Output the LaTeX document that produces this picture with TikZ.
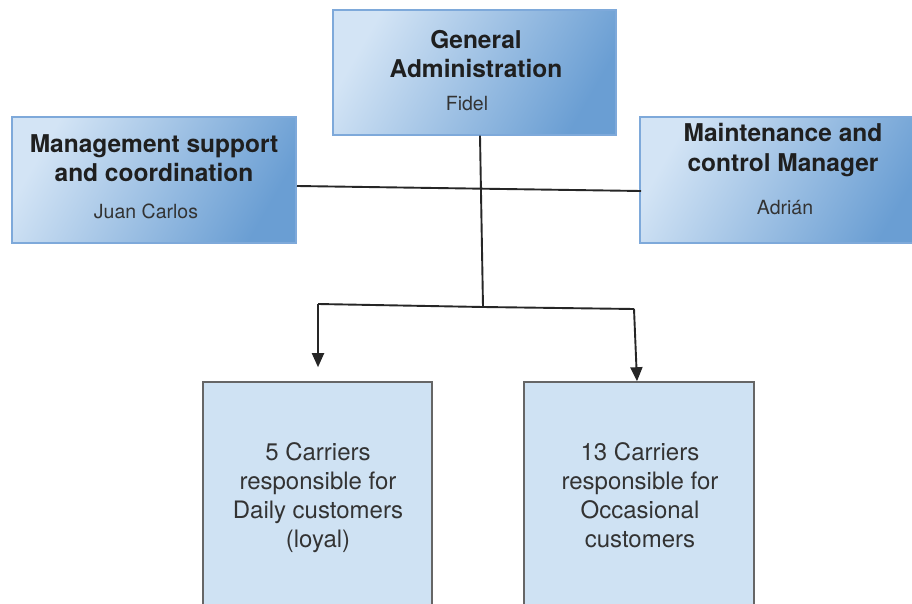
\documentclass[tikz,border=0pt]{standalone}
\usepackage{fontspec}
\setmainfont{TeX Gyre Heros}
\usetikzlibrary{arrows.meta}
\definecolor{gdark}{HTML}{6A9ED3}
\definecolor{glight}{HTML}{D3E4F5}
\definecolor{gborder}{HTML}{7EA9DA}
\definecolor{bfill}{HTML}{CFE2F3}
\definecolor{bborder}{HTML}{666666}
\definecolor{lcol}{HTML}{262626}
\tikzset{
  headbox/.style={draw=gborder, line width=1.2pt, shading=axis, left color=glight, right color=gdark, shading angle=60, minimum width=#1, inner sep=0pt},
  carrierbox/.style={draw=bborder, fill=bfill, line width=1.6pt, inner sep=0pt},
  titletext/.style={font=\fontsize{24.5}{29.5}\selectfont\bfseries, text=black!88, align=center},
  nametext/.style={font=\fontsize{19.5}{23}\selectfont, text=black!80},
  bodytext/.style={font=\fontsize{24}{29}\selectfont, text=black!80, align=center},
  conn/.style={draw=lcol, line width=1.9pt},
  arr/.style={conn, -{Triangle[length=14pt,width=12pt]}}
}
\begin{document}
\begin{tikzpicture}[x=1pt,y=-1pt]
\useasboundingbox (0,0) rectangle (912,604);
\clip (0,0) rectangle (912,604);
\fill[white] (0,0) rectangle (912,604);
% boxes
\node[headbox=283pt, minimum height=125pt] (ga) at (474.5,72.5) {};
\node[headbox=284pt, minimum height=126pt] (ms) at (154,180) {};
\node[headbox=286pt, minimum height=126pt] (mc) at (783,180) {};
\node[carrierbox, minimum width=229pt, minimum height=240pt] (dl) at (317.5,502) {};
\node[carrierbox, minimum width=230pt, minimum height=240pt] (dr) at (639,502) {};
% texts
\node[titletext] (gat) at (476,54) {General\\Administration};
\node[nametext] (gan) at (467,104) {Fidel};
\node[titletext] (mst) at (154,158) {Management support\\and coordination};
\node[nametext] (msn) at (146,211) {Juan Carlos};
\node[titletext] (mct) at (783,150) {Maintenance and\\control Manager};
\node[nametext] (mcn) at (785,208) {Adrián};
\node[bodytext] (dlt) at (318,498) {5 Carriers\\responsible for\\Daily customers\\(loyal)};
\node[bodytext] (drt) at (640,495) {13 Carriers\\responsible for\\Occasional\\customers};
% connectors
\coordinate (hl) at (297,186);
\coordinate (hr) at (641,191);
\coordinate (jc) at (483,307);
\coordinate (bl) at (318,304);
\coordinate (br) at (634,309);
\draw[conn] ([xshift=5.5pt]ga.south) -- (jc);
\draw[conn] (hl) -- (hr);
\draw[conn] (bl) -- (jc) -- (br);
\draw[arr] (bl) -- ([yshift=14pt]dl.north -| bl);
\draw[arr] (br) -- ([xshift=-2pt]dr.north);
\end{tikzpicture}
\end{document}
